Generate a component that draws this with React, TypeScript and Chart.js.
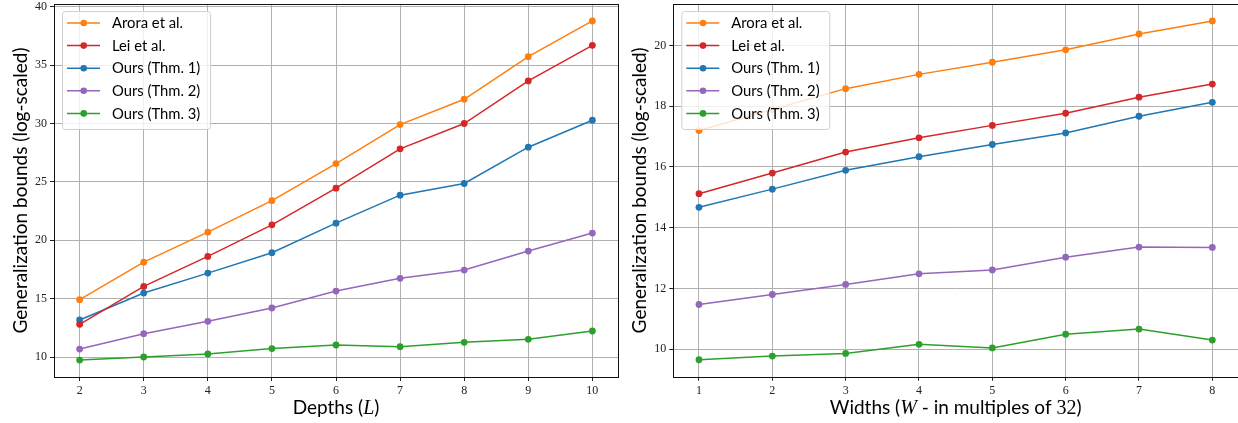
import React, { useEffect, useRef } from 'react';
import { Chart, registerables } from 'chart.js';

Chart.register(...registerables);

const seriesLabels = ['Arora et al.', 'Lei et al.', 'Ours (Thm. 1)', 'Ours (Thm. 2)', 'Ours (Thm. 3)'];
const seriesColors = ['#ff7f0e', '#d62728', '#1f77b4', '#9467bd', '#2ca02c'];

// Left panel: depths
const depths = [2, 3, 4, 5, 6, 7, 8, 9, 10];
const depthArora = [14.91, 18.13, 20.7, 23.4, 26.58, 29.92, 32.09, 35.74, 38.8];
const depthLei = [12.8, 16.05, 18.62, 21.33, 24.47, 27.84, 30.01, 33.66, 36.71];
const depthThm1 = [13.17, 15.48, 17.19, 18.94, 21.47, 23.87, 24.87, 27.98, 30.29];
const depthThm2 = [10.68, 12.0, 13.06, 14.2, 15.65, 16.74, 17.45, 19.08, 20.62];
const depthThm3 = [9.74, 10.0, 10.26, 10.72, 11.03, 10.89, 11.26, 11.52, 12.23];
const depthYTicks = [10, 15, 20, 25, 30, 35, 40];
// x title pieces: [text, kind] where kind is 'sans' | 'math' | 'num'
const depthXTitle: [string, string][] = [['Depths (', 'sans'], ['L', 'math'], [')', 'sans']];

// Right panel: widths
const widths = [1, 2, 3, 4, 5, 6, 7, 8];
const widthArora = [17.2, 17.89, 18.58, 19.05, 19.45, 19.86, 20.38, 20.81];
const widthLei = [15.12, 15.8, 16.49, 16.96, 17.37, 17.77, 18.3, 18.73];
const widthThm1 = [14.67, 15.27, 15.89, 16.34, 16.74, 17.12, 17.67, 18.13];
const widthThm2 = [11.47, 11.8, 12.13, 12.48, 12.61, 13.03, 13.36, 13.35];
const widthThm3 = [9.65, 9.77, 9.86, 10.16, 10.04, 10.49, 10.66, 10.3];
const widthYTicks = [10, 12, 14, 16, 18, 20];
const widthXTitle: [string, string][] = [
  ['Widths (', 'sans'],
  ['W', 'math'],
  [' - in multiples of ', 'sans'],
  ['32', 'num'],
  [')', 'sans'],
];

const yTitle = 'Generalization bounds (log-scaled)';

const TITLE_FONT = 'Lato';
const TICK_FONT = 'Liberation Serif';

const pieceFont: Record<string, string> = {
  sans: `19px ${TITLE_FONT}`,
  math: `italic 20px ${TICK_FONT}`,
  num: `20px ${TICK_FONT}`,
};

const frameLegendPlugin = {
  id: 'frameLegend',
  afterDraw(chart: any, _args: any, opts: any) {
    const { ctx, chartArea } = chart;
    ctx.save();
    // frame (spines)
    ctx.strokeStyle = '#111';
    ctx.lineWidth = 1;
    const l = Math.round(chartArea.left) + 0.5;
    const t = Math.round(chartArea.top) + 0.5;
    const r = Math.round(chartArea.right) + 0.5;
    const b = Math.round(chartArea.bottom) + 0.5;
    ctx.strokeRect(l, t, r - l, b - t);

    // x-axis title with mixed fonts
    const pieces: [string, string][] = opts.xTitle || [];
    let total = 0;
    pieces.forEach(([txt, kind]) => {
      ctx.font = pieceFont[kind];
      total += ctx.measureText(txt).width;
    });
    let x = (chartArea.left + chartArea.right) / 2 - total / 2;
    const ty = opts.xTitleY;
    ctx.fillStyle = '#000';
    ctx.textBaseline = 'alphabetic';
    ctx.textAlign = 'left';
    pieces.forEach(([txt, kind]) => {
      ctx.font = pieceFont[kind];
      ctx.fillText(txt, x, ty);
      x += ctx.measureText(txt).width;
    });

    // legend
    const bx = chartArea.left + 8;
    const by = chartArea.top + 7;
    const bw = 148;
    const bh = 118;
    ctx.beginPath();
    (ctx as any).roundRect(bx + 0.5, by + 0.5, bw, bh, 3);
    ctx.fillStyle = 'rgba(255,255,255,0.8)';
    ctx.fill();
    ctx.strokeStyle = '#d0d0d0';
    ctx.lineWidth = 1;
    ctx.stroke();
    ctx.font = `14.8px ${TITLE_FONT}`;
    ctx.textBaseline = 'middle';
    ctx.textAlign = 'left';
    chart.data.datasets.forEach((ds: any, i: number) => {
      const cy = by + 12 + i * 22.6;
      ctx.strokeStyle = ds.borderColor;
      ctx.lineWidth = 1.5;
      ctx.beginPath();
      ctx.moveTo(bx + 5, cy);
      ctx.lineTo(bx + 38, cy);
      ctx.stroke();
      ctx.fillStyle = ds.borderColor;
      ctx.beginPath();
      ctx.arc(bx + 21.7, cy, 3.3, 0, Math.PI * 2);
      ctx.fill();
      ctx.fillStyle = '#000';
      ctx.fillText(ds.label, bx + 50, cy + 0.5);
    });
    ctx.restore();
  },
};

function buildConfig(
  xs: number[],
  series: number[][],
  yTicks: number[],
  xTitle: [string, string][],
  geom: { padRight: number; yWidth: number; xHeight: number; yTitlePad: number }
): any {
  const all = series.flat();
  const dMin = Math.min(...all);
  const dMax = Math.max(...all);
  const yMargin = (dMax - dMin) * 0.05;
  const xMargin = (xs[xs.length - 1] - xs[0]) * 0.05;
  return {
    type: 'line',
    data: {
      datasets: series.map((vals, i) => ({
        label: seriesLabels[i],
        data: xs.map((x, j) => ({ x, y: vals[j] })),
        borderColor: seriesColors[i],
        backgroundColor: seriesColors[i],
        pointBackgroundColor: seriesColors[i],
        pointBorderWidth: 0,
        pointRadius: 3.4,
        borderWidth: 1.5,
        tension: 0,
        fill: false,
      })),
    },
    options: {
      animation: false,
      responsive: false,
      devicePixelRatio: 1,
      layout: { padding: { left: 0, top: 4, right: geom.padRight, bottom: 0 } },
      plugins: {
        legend: { display: false },
        tooltip: { enabled: false },
        frameLegend: { xTitle, xTitleY: 414 },
      },
      scales: {
        x: {
          type: 'linear',
          min: xs[0] - xMargin,
          max: xs[xs.length - 1] + xMargin,
          afterBuildTicks: (scale: any) => {
            scale.ticks = xs.map((v) => ({ value: v }));
          },
          afterFit: (scale: any) => {
            scale.height = geom.xHeight;
            scale.paddingLeft = 0;
            scale.paddingRight = 0;
          },
          border: { display: false },
          grid: {
            color: '#b0b0b0',
            lineWidth: 1,
            drawTicks: true,
            tickLength: 4,
            tickColor: '#222',
            tickWidth: 1,
          },
          ticks: {
            autoSkip: false,
            maxRotation: 0,
            padding: 3,
            color: '#222',
            font: { family: TICK_FONT, size: 12 },
          },
          title: { display: false },
        },
        y: {
          type: 'linear',
          min: dMin - yMargin,
          max: dMax + yMargin,
          afterBuildTicks: (scale: any) => {
            scale.ticks = yTicks.map((v) => ({ value: v }));
          },
          afterFit: (scale: any) => {
            scale.width = geom.yWidth;
            scale.paddingTop = 0;
            scale.paddingBottom = 0;
          },
          border: { display: false },
          grid: {
            color: '#b0b0b0',
            lineWidth: 1,
            drawTicks: true,
            tickLength: 4,
            tickColor: '#222',
            tickWidth: 1,
          },
          ticks: {
            padding: 3,
            color: '#222',
            font: { family: TICK_FONT, size: 12 },
          },
          title: {
            display: true,
            text: yTitle,
            color: '#000',
            font: { family: TITLE_FONT, size: 19, lineHeight: 1 },
            padding: { top: geom.yTitlePad, bottom: 0 },
          },
        },
      },
    },
    plugins: [frameLegendPlugin],
  };
}

export default function App() {
  const leftRef = useRef<HTMLCanvasElement>(null);
  const rightRef = useRef<HTMLCanvasElement>(null);

  useEffect(() => {
    const c1 = new Chart(
      leftRef.current as HTMLCanvasElement,
      buildConfig(depths, [depthArora, depthLei, depthThm1, depthThm2, depthThm3], depthYTicks, depthXTitle, {
        padRight: 2,
        yWidth: 54,
        xHeight: 46,
        yTitlePad: 11.5,
      })
    );
    const c2 = new Chart(
      rightRef.current as HTMLCanvasElement,
      buildConfig(widths, [widthArora, widthLei, widthThm1, widthThm2, widthThm3], widthYTicks, widthXTitle, {
        padRight: 2.6,
        yWidth: 53.3,
        xHeight: 46.3,
        yTitlePad: 10.5,
      })
    );
    return () => {
      c1.destroy();
      c2.destroy();
    };
  }, []);

  return (
    <div style={{ position: 'absolute', left: 0, top: 0, width: 1238, height: 423, overflow: 'hidden', background: '#fff' }}>
      <div style={{ position: 'absolute', left: 0, top: 0, width: 622, height: 423 }}>
        <canvas ref={leftRef} width={622} height={423} style={{ width: 622, height: 423, display: 'block' }} />
      </div>
      <div style={{ position: 'absolute', left: 620, top: 0, width: 618, height: 423, overflow: 'hidden' }}>
        <canvas ref={rightRef} width={622} height={423} style={{ width: 622, height: 423, display: 'block' }} />
      </div>
    </div>
  );
}
